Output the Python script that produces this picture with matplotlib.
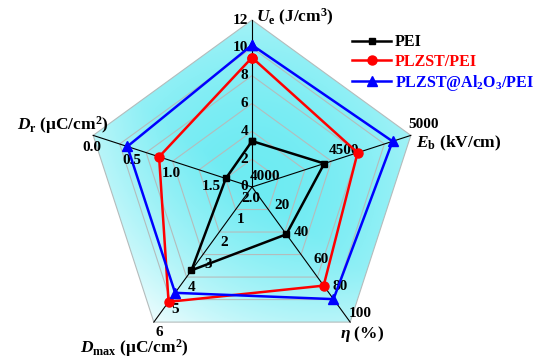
import numpy as np
import matplotlib
matplotlib.use("Agg")
import matplotlib.pyplot as plt
from matplotlib.patches import Polygon

plt.rcParams['font.family'] = ['Liberation Serif', 'DejaVu Serif']
plt.rcParams['font.weight'] = 'bold'
plt.rcParams['mathtext.fontset'] = 'custom'
plt.rcParams['mathtext.rm'] = 'Liberation Serif:bold'
plt.rcParams['mathtext.it'] = 'Liberation Serif:italic:bold'
plt.rcParams['mathtext.bf'] = 'Liberation Serif:bold'

# axes of the radar, clockwise from the top
axis_names = ['Ue', 'Eb', 'eta', 'Dmax', 'Dr']
axis_titles = [r'$\mathit{U}_{\mathrm{e}}$ (J/cm$^{3}$)',
               r'$\mathit{E}_{\mathrm{b}}$ (kV/cm)',
               r'$\mathit{\eta}$ (%)',
               r'$\mathit{D}_{\mathrm{max}}$ (μC/cm$^{2}$)',
               r'$\mathit{D}_{\mathrm{r}}$ (μC/cm$^{2}$)']
axis_min = [0, 4000, 0, 0, 2.0]     # value at the centre
axis_max = [12, 5000, 100, 6, 0.0]  # value at the outer ring

ue_ticks = [0, 2, 4, 6, 8, 10, 12]
eb_ticks = [4000, 4500, 5000]
eta_ticks = [20, 40, 60, 80, 100]
dmax_ticks = [1, 2, 3, 4, 5, 6]
dr_ticks = [2.0, 1.5, 1.0, 0.5, 0.0]

samples = ['PEI', 'PLZST/PEI', 'PLZST@Al$_2$O$_3$/PEI']
ue = [3.3, 9.3, 10.2]
eb = [4455, 4665, 4885]
eta = [35, 73, 83]
dmax = [3.7, 5.1, 4.7]
dr = [1.67, 0.83, 0.43]

colors = ['black', 'red', 'blue']
markers = ['s', 'o', '^']
msizes = [5, 6.5, 6.5]

angles = np.deg2rad([90, 18, -54, -126, 162])
n_rings = 6


def scale(i, v):
    return (v - axis_min[i]) / (axis_max[i] - axis_min[i])


def to_xy(i, v):
    r = scale(i, v)
    return r * np.cos(angles[i]), r * np.sin(angles[i])


fig = plt.figure(figsize=(5.34, 3.6), dpi=100)
ax = fig.add_axes([0, 0, 1, 1])
R = 167.0
ax.set_xlim(-252 / R, 282 / R)
ax.set_ylim(-173 / R, 187 / R)
ax.axis('off')

# gradient fill inside the pentagon
outer = np.column_stack([np.cos(angles), np.sin(angles)])
xs = np.linspace(-252 / R, 282 / R, 400)
ys = np.linspace(-173 / R, 187 / R, 300)
X, Y = np.meshgrid(xs, ys)
rr = np.hypot(X, Y)
s = np.clip(-0.6 * X - 0.8 * Y, 0, 1)
w = np.clip(0.02 + 0.35 * rr ** 2 + 0.5 * s, 0, 1)
cyan = np.array([0.42, 0.92, 0.95])
img = cyan[None, None, :] * (1 - w[..., None]) + w[..., None]
im = ax.imshow(img, extent=(xs[0], xs[-1], ys[0], ys[-1]), origin='lower',
               aspect='auto', zorder=0)
clip = Polygon(outer, closed=True, transform=ax.transData, facecolor='none')
im.set_clip_path(clip)

# rings and spokes
for k in range(1, n_rings + 1):
    ring = outer * k / n_rings
    ax.add_patch(Polygon(ring, closed=True, fill=False, edgecolor='#b4bcbc',
                         lw=0.8, zorder=1))
for a in angles:
    ax.plot([0, np.cos(a)], [0, np.sin(a)], color='black', lw=0.8, zorder=2)

# tick labels along each spoke
tick_sets = [ue_ticks, eb_ticks, eta_ticks, dmax_ticks, dr_ticks]
tick_fmt = ['{:d}', '{:d}', '{:d}', '{:d}', '{:.1f}']
tick_off = [(-4, 0), (13, 11), (10, 9), (5, -10), (-1, -12)]
tick_ha = ['right', 'center', 'center', 'center', 'center']
for i in range(5):
    for t in tick_sets[i]:
        ax.annotate(tick_fmt[i].format(t), to_xy(i, t), xytext=tick_off[i],
                    textcoords='offset pixels', ha=tick_ha[i], va='center',
                    fontsize=11, fontweight='bold', zorder=3)

# axis titles at the outer vertices
title_off = [(4, 3), (5, -8), (12, -12), (-20, -26), (15, 10)]
title_ha = ['left', 'left', 'center', 'center', 'right']
for i in range(5):
    ax.annotate(axis_titles[i], (outer[i, 0], outer[i, 1]), xytext=title_off[i],
                textcoords='offset pixels', ha=title_ha[i], va='center',
                fontsize=12.5, fontweight='bold', zorder=3)

# data series
for j in range(3):
    vals = [ue[j], eb[j], eta[j], dmax[j], dr[j]]
    pts = np.array([to_xy(i, v) for i, v in enumerate(vals)])
    pts = np.vstack([pts, pts[:1]])
    ax.plot(pts[:, 0], pts[:, 1], color=colors[j], lw=1.8, marker=markers[j],
            markersize=msizes[j], label=samples[j], zorder=4 + j)

leg = ax.legend(loc='upper left', bbox_to_anchor=(346 / 534, 1 - 28 / 360),
                frameon=False, handlelength=2.4,
                handletextpad=0.25, labelspacing=0.2, borderaxespad=0,
                labelcolor='linecolor', prop={'weight': 'bold', 'size': 11.5})

fig.savefig('out.png', dpi=100)
